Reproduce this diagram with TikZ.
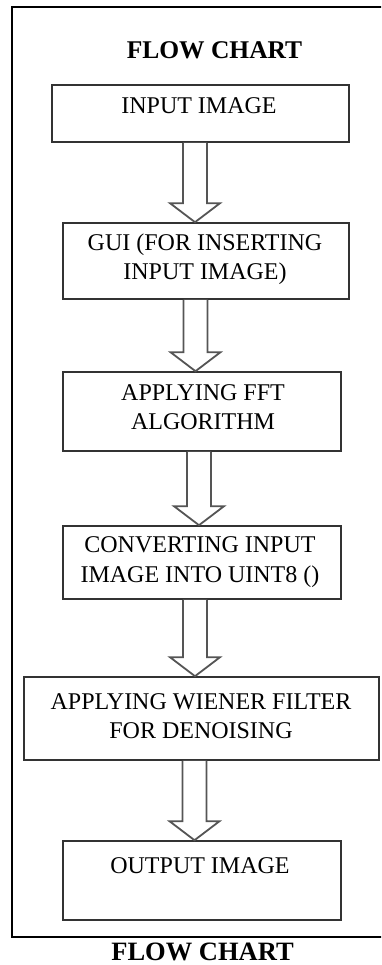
\documentclass[tikz,border=0pt]{standalone}
\usepackage{fontspec}
\setmainfont{Liberation Serif}
\usetikzlibrary{calc}

\definecolor{boxline}{HTML}{333333}
\definecolor{arrowline}{HTML}{555555}

% hollow block arrow from the bottom of one box to the top of the next,
% #3 is the x position of the arrow axis
\newcommand\flowarrow[3]{%
  \draw[hollow] let \p1=(#1.south), \p2=(#2.north) in
    ({#3pt-12pt},\y1) -- ({#3pt-12pt},{\y2+19pt}) -- ({#3pt-25pt},{\y2+19pt})
    -- ({#3pt},\y2) -- ({#3pt+25pt},{\y2+19pt}) -- ({#3pt+12pt},{\y2+19pt})
    -- ({#3pt+12pt},\y1);}

\begin{document}
\begin{tikzpicture}[x=1pt,y=-1pt,
  box/.style={draw=boxline, line width=1.6pt, rectangle, inner sep=0pt, fill=white},
  label text/.style={align=center, inner sep=0pt, font=\fontsize{24}{29.5}\selectfont},
  hollow/.style={draw=arrowline, line width=1.8pt, line join=miter, fill=white},
  heading/.style={font=\bfseries\fontsize{25.5}{30}\selectfont, inner sep=0pt}]

\useasboundingbox (0,0) rectangle (381,965);
\fill[white] (0,0) rectangle (381,965);
\begin{scope}
  \clip (0,0) rectangle (381,965);
  % outer frame (runs past the right edge)
  \draw[line width=2.2pt] (400,7) -- (12,7) -- (12,937) -- (400,937);
\end{scope}

\node[heading] (title) at (214.5,50) {FLOW CHART};

% process boxes
\node[box, minimum width=297pt, minimum height=57pt] (b1) at (200.5,113.5) {};
\node[box, minimum width=286pt, minimum height=76pt] (b2) at (206,261) {};
\node[box, minimum width=278pt, minimum height=79pt] (b3) at (202,411.5) {};
\node[box, minimum width=278pt, minimum height=73pt] (b4) at (202,562.5) {};
\node[box, minimum width=355pt, minimum height=83pt] (b5) at (201.5,718.5) {};
\node[box, minimum width=278pt, minimum height=79pt] (b6) at (202,880.5) {};

% box texts
\node[label text] (t1) at (199,106) {INPUT IMAGE};
\node[label text] (t2) at (205,259) {GUI (FOR INSERTING\\INPUT IMAGE)};
\node[label text] (t3) at (203,407) {APPLYING FFT\\ALGORITHM};
\node[label text] (t4) at (200,562) {CONVERTING INPUT\\IMAGE INTO UINT8 ()};
\node[label text] (t5) at (201,716) {APPLYING WIENER FILTER\\FOR DENOISING};
\node[label text] (t6) at (200,866) {OUTPUT IMAGE};

% connectors
\flowarrow{b1}{b2}{195}
\flowarrow{b2}{b3}{195.5}
\flowarrow{b3}{b4}{199}
\flowarrow{b4}{b5}{195}
\flowarrow{b5}{b6}{194.5}

\node[heading, font=\bfseries\fontsize{26.5}{30}\selectfont] (caption) at (202.5,951.5) {FLOW CHART};
\end{tikzpicture}
\end{document}
